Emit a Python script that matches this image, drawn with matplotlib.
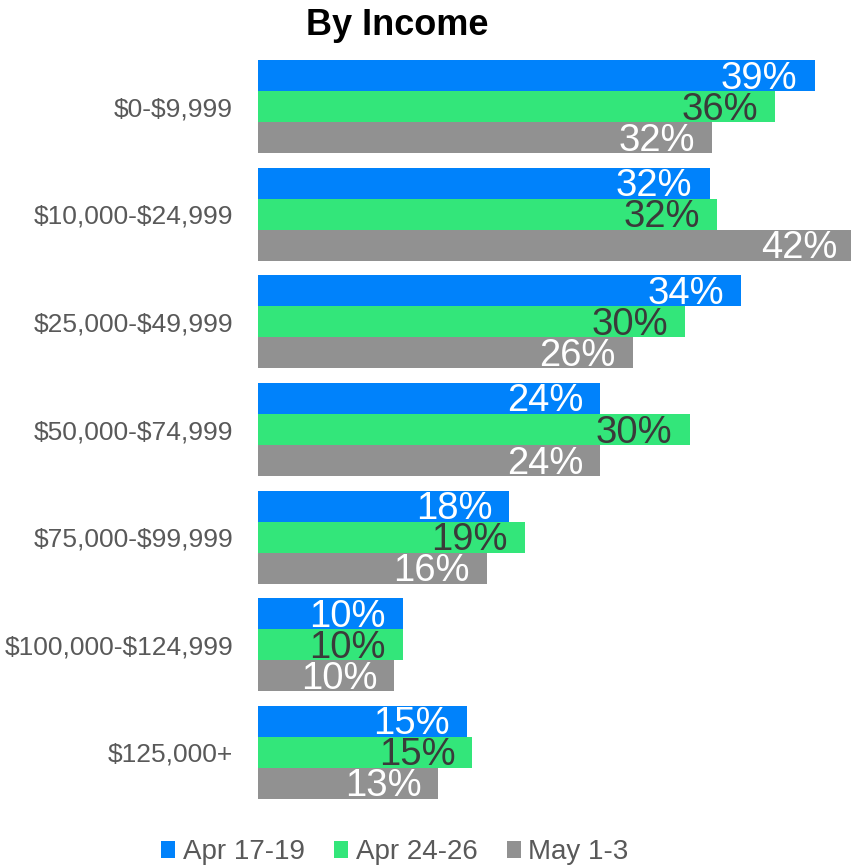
import numpy as np
import matplotlib.pyplot as plt

plt.rcParams['font.family'] = ['Liberation Sans', 'DejaVu Sans']
plt.rcParams['text.parse_math'] = False

# data (percent)
categories = ['$0-$9,999', '$10,000-$24,999', '$25,000-$49,999', '$50,000-$74,999',
              '$75,000-$99,999', '$100,000-$124,999', '$125,000+']
series_names = ['Apr 17-19', 'Apr 24-26', 'May 1-3']
apr_17_19 = [39.2, 31.8, 34.0, 24.1, 17.7, 10.2, 14.7]
apr_24_26 = [36.4, 32.3, 30.1, 30.4, 18.8, 10.2, 15.1]
may_1_3 = [32.0, 42.0, 26.4, 24.1, 16.1, 9.6, 12.7]

colors = ['#0082FB', '#33E67A', '#919191']
label_colors = ['white', '#3A3A3A', 'white']

fig = plt.figure(figsize=(8.51, 8.65), dpi=100)
ax = fig.add_axes([258 / 851, 1 - 799 / 865, 1 - 258 / 851, 739 / 865])

y = np.arange(len(categories))
h = 0.288
for i, (name, vals) in enumerate(zip(series_names, [apr_17_19, apr_24_26, may_1_3])):
    pos = y + (i - 1) * h
    bars = ax.barh(pos, vals, height=h, color=colors[i], label=name)
    for b, v in zip(bars, vals):
        ax.annotate(f'{v:.0f}%', xy=(b.get_width(), b.get_y() + h / 2),
                    xytext=(-17, -13), textcoords='offset pixels',
                    ha='right', va='baseline', fontsize=27.5, color=label_colors[i],
                    annotation_clip=False)

ax.set_xlim(0, (851 - 258) / 14.2)
ax.set_ylim(len(categories) - 1 + 1.5 * h, -1.5 * h)
ax.set_yticks(y)
ax.set_yticklabels(categories, fontsize=19, color='#595959')
ax.tick_params(axis='y', length=0, pad=18)
ax.set_xticks([])
for s in ax.spines.values():
    s.set_visible(False)

fig.text(397 / 851, 1 - 35 / 865, 'By Income', ha='center', va='baseline',
         fontsize=26, fontweight='bold', color='black')

handles, labels = ax.get_legend_handles_labels()
fig.legend(handles, labels, loc='lower center', bbox_to_anchor=(0.464, 0.0),
           ncol=3, frameon=False, fontsize=20, labelcolor='#595959',
           handlelength=0.5, handleheight=0.58, handletextpad=0.28,
           columnspacing=1.05, borderpad=0, borderaxespad=0)

fig.savefig('out.png', dpi=100)
